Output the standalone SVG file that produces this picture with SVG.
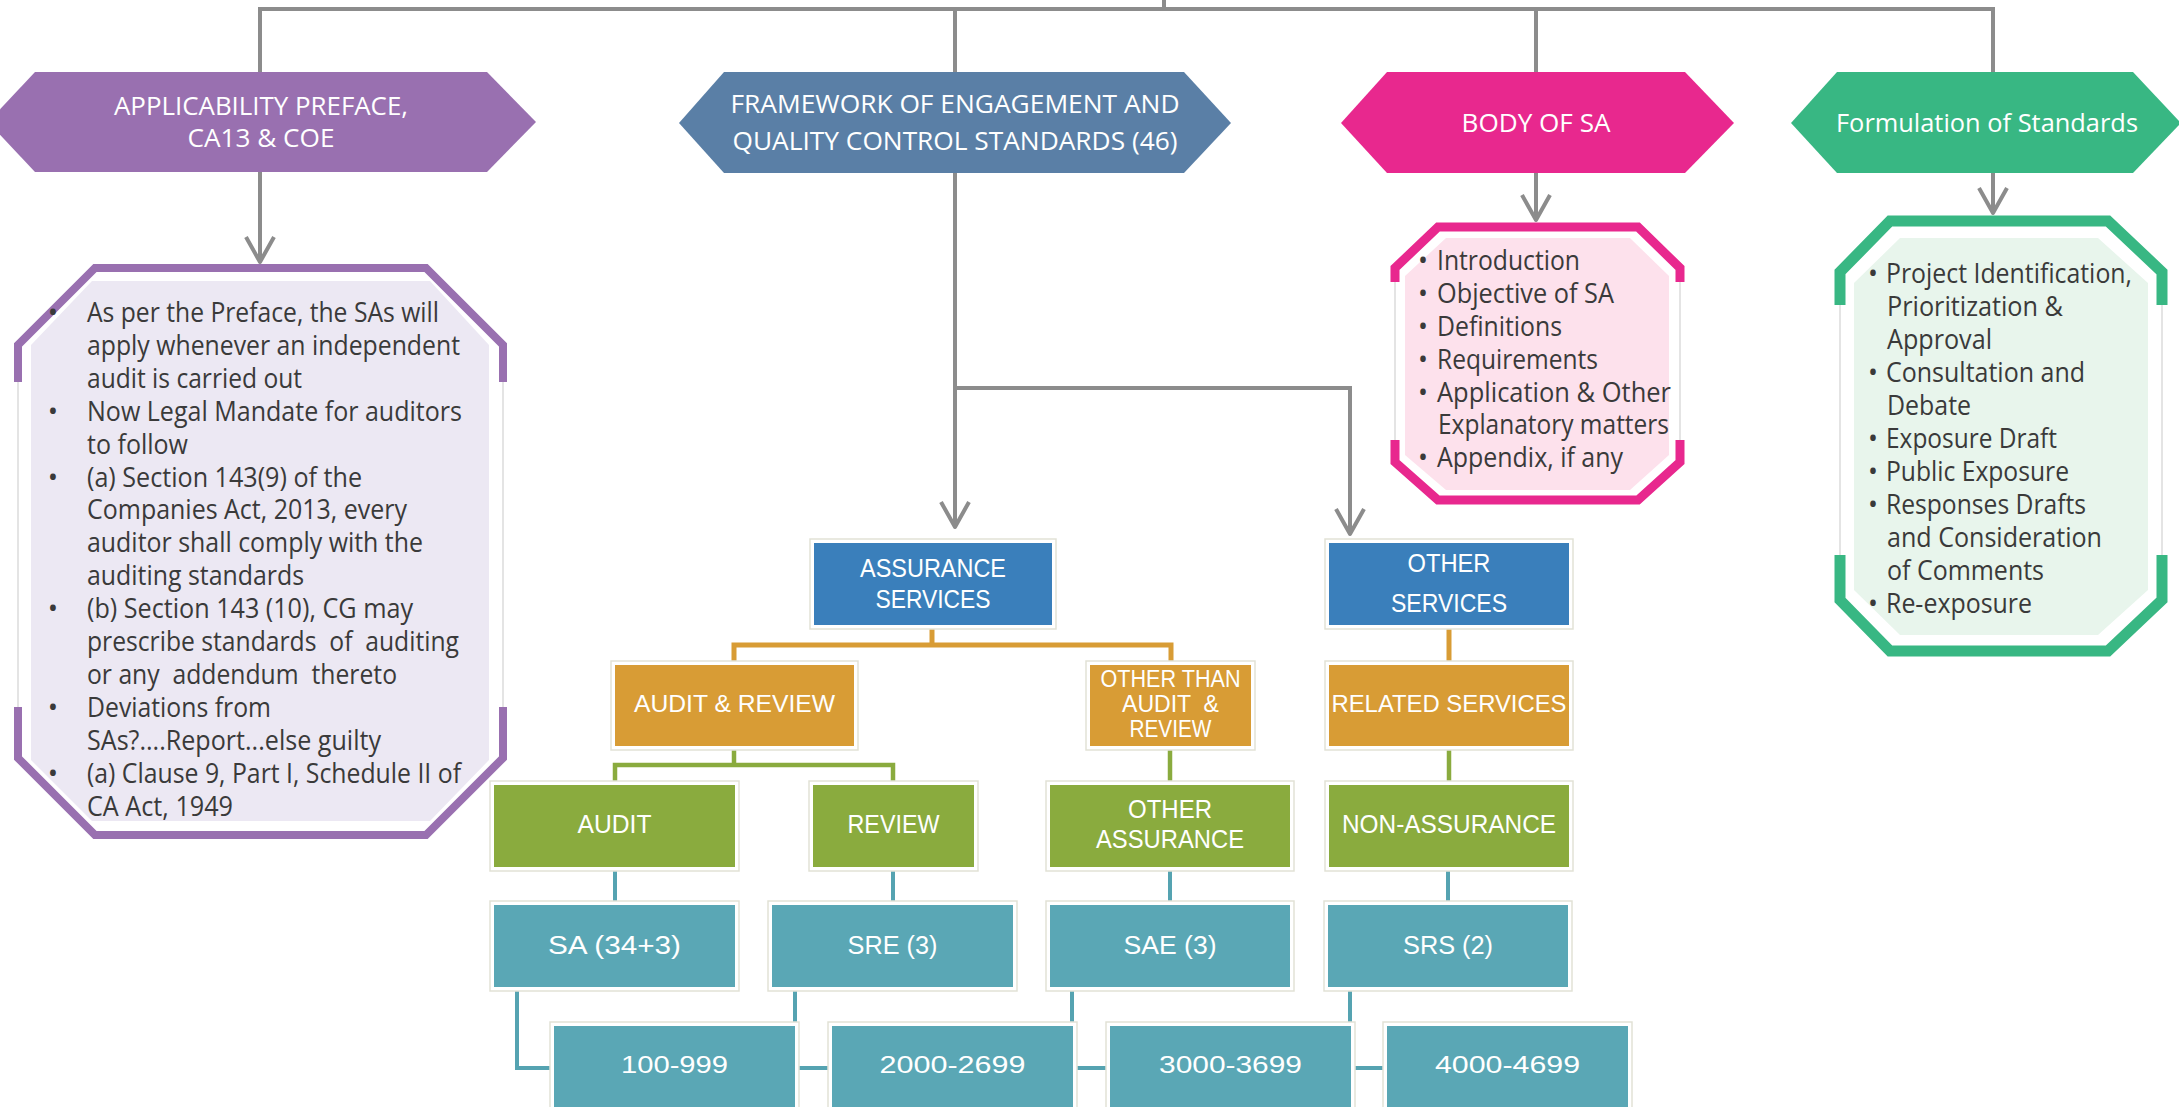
<svg xmlns="http://www.w3.org/2000/svg" width="2179" height="1107" viewBox="0 0 2179 1107">
<defs>
<style>
.os{font-family:"Open Sans","Noto Sans","Liberation Sans",sans-serif}
.hl{font-size:25px;fill:#ffffff;text-anchor:middle}
.lt{font-size:27.5px;fill:#3a3a3a}
.bt{font-size:26.5px;fill:#3a3a3a}
.bu{text-anchor:middle}
.tb{font-family:"Liberation Sans",Arial,sans-serif;fill:#ffffff;text-anchor:middle}
.g{stroke:#8c8c8c;stroke-width:4;fill:none}
.co{stroke:#d89c35;stroke-width:5;fill:none}
.cg{stroke:#8aab3e;stroke-width:4.5;fill:none}
.ct{stroke:#55a3b1;stroke-width:4;fill:none}
.fr{fill:#ffffff;stroke:#e2e2d6;stroke-width:1.5}
.blue{fill:#3a7fbb}
.orange{fill:#d89c35}
.olive{fill:#8aab3e}
.teal{fill:#5aa7b5}
.side{stroke:#dcdcdc;stroke-width:1.5;fill:none}
</style>
<marker id="av" markerUnits="userSpaceOnUse" markerWidth="40" markerHeight="40" viewBox="-30 -20 40 40" refX="0" refY="0" orient="auto" overflow="visible">
<path d="M-25,-14 L0,0 L-25,14" fill="none" stroke="#8c8c8c" stroke-width="4" stroke-linejoin="round"/>
</marker>
</defs>
<rect width="2179" height="1107" fill="#ffffff"/>

<g id="connectors">
<path class="g" d="M260,72 V9 H1993 V72"/>
<path class="g" d="M955,9 V72"/>
<path class="g" d="M1536,9 V72"/>
<path class="g" d="M1164,0 V9"/>
<path class="g" d="M260,172 V262" marker-end="url(#av)"/>
<path class="g" d="M955,173 V527" marker-end="url(#av)"/>
<path class="g" d="M955,388 H1350 V534" marker-end="url(#av)"/>
<path class="g" d="M1536,173 V220" marker-end="url(#av)"/>
<path class="g" d="M1993,173 V213" marker-end="url(#av)"/>
<path class="co" d="M932,625 V645"/>
<path class="co" d="M734,665 V645 H1171 V665"/>
<path class="co" d="M1449,625 V665"/>
<path class="cg" d="M734,746 V765"/>
<path class="cg" d="M615,785 V765 H893 V785"/>
<path class="cg" d="M1170,746 V785"/>
<path class="cg" d="M1449,746 V785"/>
<path class="ct" d="M615,867 V905"/>
<path class="ct" d="M893,867 V905"/>
<path class="ct" d="M1170,867 V905"/>
<path class="ct" d="M1448,867 V905"/>
<path class="ct" d="M517,987 V1068 H554"/>
<path class="ct" d="M795,987 V1068 H832"/>
<path class="ct" d="M1072,987 V1068 H1110"/>
<path class="ct" d="M1350,987 V1068 H1387"/>
</g>

<g id="hex-applicability">
<polygon points="-12,122 35,72 487,72 536,122 487,172 35,172" fill="#9970b0"/>
<text class="os hl" x="261" y="115" textLength="294" lengthAdjust="spacingAndGlyphs">APPLICABILITY PREFACE,</text>
<text class="os hl" x="261" y="147" textLength="147" lengthAdjust="spacingAndGlyphs">CA13 &amp; COE</text>
</g>

<g id="hex-framework">
<polygon points="679,123 724,72 1184,72 1231,123 1184,173 724,173" fill="#5a7fa6"/>
<text class="os hl" x="955" y="113" textLength="449" lengthAdjust="spacingAndGlyphs">FRAMEWORK OF ENGAGEMENT AND</text>
<text class="os hl" x="955" y="150" textLength="445" lengthAdjust="spacingAndGlyphs">QUALITY CONTROL STANDARDS (46)</text>
</g>

<g id="hex-body">
<polygon points="1341,123 1387,72 1685,72 1734,123 1685,173 1387,173" fill="#e8288e"/>
<text class="os hl" x="1536" y="132" textLength="149" lengthAdjust="spacingAndGlyphs">BODY OF SA</text>
</g>

<g id="hex-formulation">
<polygon points="1791,123 1837,72 2133,72 2181,123 2133,173 1837,173" fill="#38b783"/>
<text class="os hl" x="1987" y="132" textLength="302" lengthAdjust="spacingAndGlyphs">Formulation of Standards</text>
</g>

<g id="box-applicability">
<polygon points="92,281 430,281 489,345 489,760 430,821 92,821 31,760 31,345" fill="#ece8f3"/>
<path d="M18,382 V345 L95,268 H426 L503,345 V382" fill="none" stroke="#9970b0" stroke-width="8"/>
<path d="M18,707 V758 L95,835 H426 L503,758 V707" fill="none" stroke="#9970b0" stroke-width="8"/>
<path class="side" d="M18,382 V707 M503,382 V707"/>
<g class="os lt">
<text class="bu" x="53" y="322">•</text>
<text class="bu" x="53" y="420.7">•</text>
<text class="bu" x="53" y="486.5">•</text>
<text class="bu" x="53" y="618.1">•</text>
<text class="bu" x="53" y="716.8">•</text>
<text class="bu" x="53" y="782.6">•</text>
<text x="87" y="322" textLength="352" lengthAdjust="spacingAndGlyphs">As per the Preface, the SAs will</text>
<text x="87" y="354.9" textLength="373" lengthAdjust="spacingAndGlyphs">apply whenever an independent</text>
<text x="87" y="387.8" textLength="215" lengthAdjust="spacingAndGlyphs">audit is carried out</text>
<text x="87" y="420.7" textLength="375" lengthAdjust="spacingAndGlyphs">Now Legal Mandate for auditors</text>
<text x="87" y="453.6" textLength="101" lengthAdjust="spacingAndGlyphs">to follow</text>
<text x="87" y="486.5" textLength="275" lengthAdjust="spacingAndGlyphs">(a) Section 143(9) of the</text>
<text x="87" y="519.4" textLength="320" lengthAdjust="spacingAndGlyphs">Companies Act, 2013, every</text>
<text x="87" y="552.3" textLength="336" lengthAdjust="spacingAndGlyphs">auditor shall comply with the</text>
<text x="87" y="585.2" textLength="217" lengthAdjust="spacingAndGlyphs">auditing standards</text>
<text x="87" y="618.1" textLength="326" lengthAdjust="spacingAndGlyphs">(b) Section 143 (10), CG may</text>
<text x="87" y="651" textLength="372" lengthAdjust="spacingAndGlyphs" style="white-space:pre">prescribe standards  of  auditing</text>
<text x="87" y="683.9" textLength="310" lengthAdjust="spacingAndGlyphs" style="white-space:pre">or any  addendum  thereto</text>
<text x="87" y="716.8" textLength="184" lengthAdjust="spacingAndGlyphs">Deviations from</text>
<text x="87" y="749.7" textLength="294" lengthAdjust="spacingAndGlyphs">SAs?....Report...else guilty</text>
<text x="87" y="782.6" textLength="374" lengthAdjust="spacingAndGlyphs">(a) Clause 9, Part I, Schedule II of</text>
<text x="87" y="815.5" textLength="146" lengthAdjust="spacingAndGlyphs">CA Act, 1949</text>
</g>
</g>

<g id="box-body">
<polygon points="1446,238 1630,238 1669,276 1669,455 1630,490 1446,490 1405,455 1405,276" fill="#fde1ec"/>
<path d="M1395,282 V268 L1438,227 H1638 L1680,268 V282" fill="none" stroke="#e8288e" stroke-width="9"/>
<path d="M1395,440 V462 L1438,500 H1638 L1680,462 V440" fill="none" stroke="#e8288e" stroke-width="9"/>
<path class="side" d="M1395,282 V440 M1680,282 V440"/>
<g class="os bt">
<text class="bu" x="1423" y="270">•</text>
<text class="bu" x="1423" y="303">•</text>
<text class="bu" x="1423" y="336">•</text>
<text class="bu" x="1423" y="369">•</text>
<text class="bu" x="1423" y="402">•</text>
<text class="bu" x="1423" y="467">•</text>
<text x="1437" y="270" textLength="143" lengthAdjust="spacingAndGlyphs">Introduction</text>
<text x="1437" y="303" textLength="177" lengthAdjust="spacingAndGlyphs">Objective of SA</text>
<text x="1437" y="336" textLength="125" lengthAdjust="spacingAndGlyphs">Definitions</text>
<text x="1437" y="369" textLength="161" lengthAdjust="spacingAndGlyphs">Requirements</text>
<text x="1437" y="402" textLength="234" lengthAdjust="spacingAndGlyphs">Application &amp; Other</text>
<text x="1438" y="434" textLength="231" lengthAdjust="spacingAndGlyphs">Explanatory matters</text>
<text x="1437" y="467" textLength="186" lengthAdjust="spacingAndGlyphs">Appendix, if any</text>
</g>
</g>

<g id="box-formulation">
<polygon points="1900,238 2098,238 2148,283 2148,590 2098,635 1900,635 1854,590 1854,283" fill="#e8f5ec"/>
<path d="M1840,305 V272 L1890,221 H2108 L2162,272 V305" fill="none" stroke="#38b783" stroke-width="11"/>
<path d="M1840,555 V600 L1890,651 H2108 L2162,600 V555" fill="none" stroke="#38b783" stroke-width="11"/>
<path class="side" d="M1840,305 V555 M2162,305 V555"/>
<g class="os bt">
<text class="bu" x="1873" y="283">•</text>
<text class="bu" x="1873" y="382">•</text>
<text class="bu" x="1873" y="448">•</text>
<text class="bu" x="1873" y="481">•</text>
<text class="bu" x="1873" y="514">•</text>
<text class="bu" x="1873" y="613">•</text>
<text x="1886" y="283" textLength="246" lengthAdjust="spacingAndGlyphs">Project Identification,</text>
<text x="1887" y="316" textLength="176" lengthAdjust="spacingAndGlyphs">Prioritization &amp;</text>
<text x="1887" y="349" textLength="105" lengthAdjust="spacingAndGlyphs">Approval</text>
<text x="1886" y="382" textLength="199" lengthAdjust="spacingAndGlyphs">Consultation and</text>
<text x="1887" y="415" textLength="84" lengthAdjust="spacingAndGlyphs">Debate</text>
<text x="1886" y="448" textLength="171" lengthAdjust="spacingAndGlyphs">Exposure Draft</text>
<text x="1886" y="481" textLength="183" lengthAdjust="spacingAndGlyphs">Public Exposure</text>
<text x="1886" y="514" textLength="200" lengthAdjust="spacingAndGlyphs">Responses Drafts</text>
<text x="1887" y="547" textLength="215" lengthAdjust="spacingAndGlyphs">and Consideration</text>
<text x="1887" y="580" textLength="157" lengthAdjust="spacingAndGlyphs">of Comments</text>
<text x="1886" y="613" textLength="146" lengthAdjust="spacingAndGlyphs">Re-exposure</text>
</g>
</g>

<g id="node-assurance-services">
<rect class="fr" x="810" y="539" width="246" height="90"/>
<rect class="blue" x="814" y="543" width="238" height="82"/>
<text class="tb" x="933" y="577" font-size="26.5" textLength="146" lengthAdjust="spacingAndGlyphs">ASSURANCE</text>
<text class="tb" x="933" y="608" font-size="26.5" textLength="115" lengthAdjust="spacingAndGlyphs">SERVICES</text>
</g>

<g id="node-other-services">
<rect class="fr" x="1325" y="539" width="248" height="90"/>
<rect class="blue" x="1329" y="543" width="240" height="82"/>
<text class="tb" x="1449" y="572" font-size="26" textLength="83" lengthAdjust="spacingAndGlyphs">OTHER</text>
<text class="tb" x="1449" y="612" font-size="26" textLength="116" lengthAdjust="spacingAndGlyphs">SERVICES</text>
</g>

<g id="node-audit-review">
<rect class="fr" x="611" y="661" width="247" height="89"/>
<rect class="orange" x="615" y="665" width="239" height="81"/>
<text class="tb" x="734.5" y="712" font-size="24.5" textLength="201" lengthAdjust="spacingAndGlyphs">AUDIT &amp; REVIEW</text>
</g>

<g id="node-other-than">
<rect class="fr" x="1086" y="661" width="169" height="89"/>
<rect class="orange" x="1090" y="665" width="161" height="81"/>
<text class="tb" x="1170.5" y="687" font-size="23.5" textLength="140" lengthAdjust="spacingAndGlyphs">OTHER THAN</text>
<text class="tb" x="1170.5" y="712" font-size="23.5" textLength="97" lengthAdjust="spacingAndGlyphs" style="white-space:pre">AUDIT  &amp;</text>
<text class="tb" x="1170.5" y="737" font-size="23.5" textLength="82" lengthAdjust="spacingAndGlyphs">REVIEW</text>
</g>

<g id="node-related-services">
<rect class="fr" x="1325" y="661" width="248" height="89"/>
<rect class="orange" x="1329" y="665" width="240" height="81"/>
<text class="tb" x="1449" y="712" font-size="24.5" textLength="235" lengthAdjust="spacingAndGlyphs">RELATED SERVICES</text>
</g>

<g id="node-audit">
<rect class="fr" x="490" y="781" width="249" height="90"/>
<rect class="olive" x="494" y="785" width="241" height="82"/>
<text class="tb" x="614.5" y="833" font-size="26" textLength="74" lengthAdjust="spacingAndGlyphs">AUDIT</text>
</g>

<g id="node-review">
<rect class="fr" x="809" y="781" width="169" height="90"/>
<rect class="olive" x="813" y="785" width="161" height="82"/>
<text class="tb" x="893.5" y="833" font-size="26" textLength="92" lengthAdjust="spacingAndGlyphs">REVIEW</text>
</g>

<g id="node-other-assurance">
<rect class="fr" x="1046" y="781" width="248" height="90"/>
<rect class="olive" x="1050" y="785" width="240" height="82"/>
<text class="tb" x="1170" y="818" font-size="26" textLength="84" lengthAdjust="spacingAndGlyphs">OTHER</text>
<text class="tb" x="1170" y="848" font-size="26" textLength="148" lengthAdjust="spacingAndGlyphs">ASSURANCE</text>
</g>

<g id="node-non-assurance">
<rect class="fr" x="1325" y="781" width="248" height="90"/>
<rect class="olive" x="1329" y="785" width="240" height="82"/>
<text class="tb" x="1449" y="833" font-size="26" textLength="214" lengthAdjust="spacingAndGlyphs">NON-ASSURANCE</text>
</g>

<g id="node-sa">
<rect class="fr" x="490" y="901" width="249" height="90"/>
<rect class="teal" x="494" y="905" width="241" height="82"/>
<text class="tb" x="614.5" y="954" font-size="25.5" textLength="133" lengthAdjust="spacingAndGlyphs">SA (34+3)</text>
</g>

<g id="node-sre">
<rect class="fr" x="768" y="901" width="249" height="90"/>
<rect class="teal" x="772" y="905" width="241" height="82"/>
<text class="tb" x="892.5" y="954" font-size="25.5" textLength="90" lengthAdjust="spacingAndGlyphs">SRE (3)</text>
</g>

<g id="node-sae">
<rect class="fr" x="1046" y="901" width="248" height="90"/>
<rect class="teal" x="1050" y="905" width="240" height="82"/>
<text class="tb" x="1170" y="954" font-size="25.5" textLength="93" lengthAdjust="spacingAndGlyphs">SAE (3)</text>
</g>

<g id="node-srs">
<rect class="fr" x="1324" y="901" width="248" height="90"/>
<rect class="teal" x="1328" y="905" width="240" height="82"/>
<text class="tb" x="1448" y="954" font-size="25.5" textLength="90" lengthAdjust="spacingAndGlyphs">SRS (2)</text>
</g>

<g id="node-100-999">
<rect class="fr" x="550" y="1022" width="249" height="100"/>
<rect class="teal" x="554" y="1026" width="241" height="100"/>
<text class="tb" x="674.5" y="1073" font-size="23" textLength="107" lengthAdjust="spacingAndGlyphs">100-999</text>
</g>

<g id="node-2000-2699">
<rect class="fr" x="828" y="1022" width="249" height="100"/>
<rect class="teal" x="832" y="1026" width="241" height="100"/>
<text class="tb" x="952.5" y="1073" font-size="23" textLength="146" lengthAdjust="spacingAndGlyphs">2000-2699</text>
</g>

<g id="node-3000-3699">
<rect class="fr" x="1106" y="1022" width="249" height="100"/>
<rect class="teal" x="1110" y="1026" width="241" height="100"/>
<text class="tb" x="1230.5" y="1073" font-size="23" textLength="143" lengthAdjust="spacingAndGlyphs">3000-3699</text>
</g>

<g id="node-4000-4699">
<rect class="fr" x="1383" y="1022" width="249" height="100"/>
<rect class="teal" x="1387" y="1026" width="241" height="100"/>
<text class="tb" x="1507.5" y="1073" font-size="23" textLength="145" lengthAdjust="spacingAndGlyphs">4000-4699</text>
</g>
</svg>
